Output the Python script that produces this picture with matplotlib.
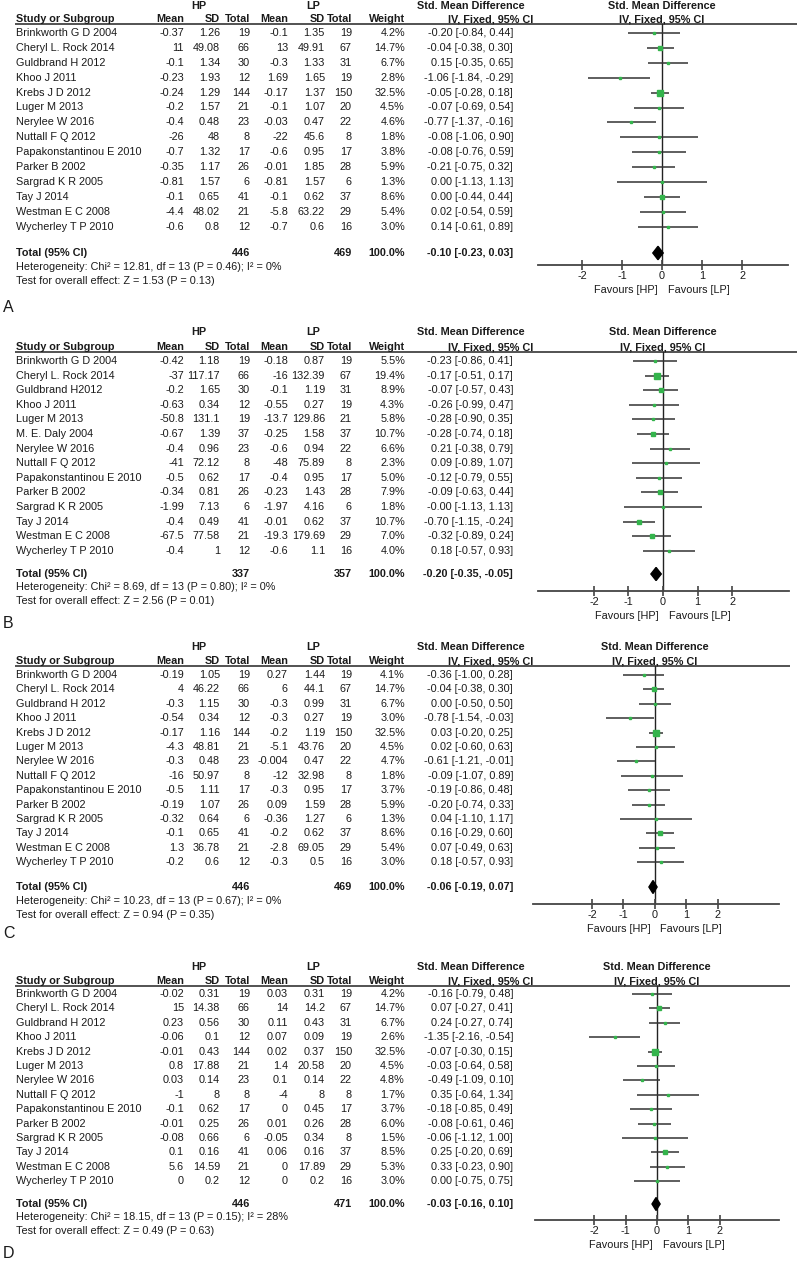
import numpy as np
import matplotlib.pyplot as plt
import matplotlib.transforms as mtransforms

plt.rcParams['font.family'] = ['Liberation Sans', 'DejaVu Sans']
plt.rcParams['axes.unicode_minus'] = False

# ---------------- data ----------------
studies_a = ["Brinkworth G D 2004", "Cheryl L. Rock 2014", "Guldbrand H 2012", "Khoo J 2011",
             "Krebs J D 2012", "Luger M 2013", "Nerylee W 2016", "Nuttall F Q 2012",
             "Papakonstantinou E 2010", "Parker B 2002", "Sargrad K R 2005", "Tay J 2014",
             "Westman E C 2008", "Wycherley T P 2010"]
studies_b = ["Brinkworth G D 2004", "Cheryl L. Rock 2014", "Guldbrand H2012", "Khoo J 2011",
             "Luger M 2013", "M. E. Daly 2004", "Nerylee W 2016", "Nuttall F Q 2012",
             "Papakonstantinou E 2010", "Parker B 2002", "Sargrad K R 2005", "Tay J 2014",
             "Westman E C 2008", "Wycherley T P 2010"]

# panel A
hp_mean_a = ["-0.37", "11", "-0.1", "-0.23", "-0.24", "-0.2", "-0.4", "-26", "-0.7", "-0.35", "-0.81", "-0.1", "-4.4", "-0.6"]
hp_sd_a = ["1.26", "49.08", "1.34", "1.93", "1.29", "1.57", "0.48", "48", "1.32", "1.17", "1.57", "0.65", "48.02", "0.8"]
hp_n_a = [19, 66, 30, 12, 144, 21, 23, 8, 17, 26, 6, 41, 21, 12]
lp_mean_a = ["-0.1", "13", "-0.3", "1.69", "-0.17", "-0.1", "-0.03", "-22", "-0.6", "-0.01", "-0.81", "-0.1", "-5.8", "-0.7"]
lp_sd_a = ["1.35", "49.91", "1.33", "1.65", "1.37", "1.07", "0.47", "45.6", "0.95", "1.85", "1.57", "0.62", "63.22", "0.6"]
lp_n_a = [19, 67, 31, 19, 150, 20, 22, 8, 17, 28, 6, 37, 29, 16]
weight_a = [4.2, 14.7, 6.7, 2.8, 32.5, 4.5, 4.6, 1.8, 3.8, 5.9, 1.3, 8.6, 5.4, 3.0]
smd_a = [-0.20, -0.04, 0.15, -1.06, -0.05, -0.07, -0.77, -0.08, -0.08, -0.21, 0.00, 0.00, 0.02, 0.14]
lo_a = [-0.84, -0.38, -0.35, -1.84, -0.28, -0.69, -1.37, -1.06, -0.76, -0.75, -1.13, -0.44, -0.54, -0.61]
hi_a = [0.44, 0.30, 0.65, -0.29, 0.18, 0.54, -0.16, 0.90, 0.59, 0.32, 1.13, 0.44, 0.59, 0.89]
total_a = (446, 469, -0.10, -0.23, 0.03)
het_a = "Heterogeneity: Chi² = 12.81, df = 13 (P = 0.46); I² = 0%"
test_a = "Test for overall effect: Z = 1.53 (P = 0.13)"

# panel B
hp_mean_b = ["-0.42", "-37", "-0.2", "-0.63", "-50.8", "-0.67", "-0.4", "-41", "-0.5", "-0.34", "-1.99", "-0.4", "-67.5", "-0.4"]
hp_sd_b = ["1.18", "117.17", "1.65", "0.34", "131.1", "1.39", "0.96", "72.12", "0.62", "0.81", "7.13", "0.49", "77.58", "1"]
hp_n_b = [19, 66, 30, 12, 19, 37, 23, 8, 17, 26, 6, 41, 21, 12]
lp_mean_b = ["-0.18", "-16", "-0.1", "-0.55", "-13.7", "-0.25", "-0.6", "-48", "-0.4", "-0.23", "-1.97", "-0.01", "-19.3", "-0.6"]
lp_sd_b = ["0.87", "132.39", "1.19", "0.27", "129.86", "1.58", "0.94", "75.89", "0.95", "1.43", "4.16", "0.62", "179.69", "1.1"]
lp_n_b = [19, 67, 31, 19, 21, 37, 22, 8, 17, 28, 6, 37, 29, 16]
weight_b = [5.5, 19.4, 8.9, 4.3, 5.8, 10.7, 6.6, 2.3, 5.0, 7.9, 1.8, 10.7, 7.0, 4.0]
smd_b = [-0.23, -0.17, -0.07, -0.26, -0.28, -0.28, 0.21, 0.09, -0.12, -0.09, -0.0, -0.70, -0.32, 0.18]
lo_b = [-0.86, -0.51, -0.57, -0.99, -0.90, -0.74, -0.38, -0.89, -0.79, -0.63, -1.13, -1.15, -0.89, -0.57]
hi_b = [0.41, 0.17, 0.43, 0.47, 0.35, 0.18, 0.79, 1.07, 0.55, 0.44, 1.13, -0.24, 0.24, 0.93]
total_b = (337, 357, -0.20, -0.35, -0.05)
het_b = "Heterogeneity: Chi² = 8.69, df = 13 (P = 0.80); I² = 0%"
test_b = "Test for overall effect: Z = 2.56 (P = 0.01)"

# panel C
hp_mean_c = ["-0.19", "4", "-0.3", "-0.54", "-0.17", "-4.3", "-0.3", "-16", "-0.5", "-0.19", "-0.32", "-0.1", "1.3", "-0.2"]
hp_sd_c = ["1.05", "46.22", "1.15", "0.34", "1.16", "48.81", "0.48", "50.97", "1.11", "1.07", "0.64", "0.65", "36.78", "0.6"]
hp_n_c = [19, 66, 30, 12, 144, 21, 23, 8, 17, 26, 6, 41, 21, 12]
lp_mean_c = ["0.27", "6", "-0.3", "-0.3", "-0.2", "-5.1", "-0.004", "-12", "-0.3", "0.09", "-0.36", "-0.2", "-2.8", "-0.3"]
lp_sd_c = ["1.44", "44.1", "0.99", "0.27", "1.19", "43.76", "0.47", "32.98", "0.95", "1.59", "1.27", "0.62", "69.05", "0.5"]
lp_n_c = [19, 67, 31, 19, 150, 20, 22, 8, 17, 28, 6, 37, 29, 16]
weight_c = [4.1, 14.7, 6.7, 3.0, 32.5, 4.5, 4.7, 1.8, 3.7, 5.9, 1.3, 8.6, 5.4, 3.0]
smd_c = [-0.36, -0.04, 0.00, -0.78, 0.03, 0.02, -0.61, -0.09, -0.19, -0.20, 0.04, 0.16, 0.07, 0.18]
lo_c = [-1.00, -0.38, -0.50, -1.54, -0.20, -0.60, -1.21, -1.07, -0.86, -0.74, -1.10, -0.29, -0.49, -0.57]
hi_c = [0.28, 0.30, 0.50, -0.03, 0.25, 0.63, -0.01, 0.89, 0.48, 0.33, 1.17, 0.60, 0.63, 0.93]
total_c = (446, 469, -0.06, -0.19, 0.07)
het_c = "Heterogeneity: Chi² = 10.23, df = 13 (P = 0.67); I² = 0%"
test_c = "Test for overall effect: Z = 0.94 (P = 0.35)"

# panel D
hp_mean_d = ["-0.02", "15", "0.23", "-0.06", "-0.01", "0.8", "0.03", "-1", "-0.1", "-0.01", "-0.08", "0.1", "5.6", "0"]
hp_sd_d = ["0.31", "14.38", "0.56", "0.1", "0.43", "17.88", "0.14", "8", "0.62", "0.25", "0.66", "0.16", "14.59", "0.2"]
hp_n_d = [19, 66, 30, 12, 144, 21, 23, 8, 17, 26, 6, 41, 21, 12]
lp_mean_d = ["0.03", "14", "0.11", "0.07", "0.02", "1.4", "0.1", "-4", "0", "0.01", "-0.05", "0.06", "0", "0"]
lp_sd_d = ["0.31", "14.2", "0.43", "0.09", "0.37", "20.58", "0.14", "8", "0.45", "0.26", "0.34", "0.16", "17.89", "0.2"]
lp_n_d = [19, 67, 31, 19, 150, 20, 22, 8, 17, 28, 8, 37, 29, 16]
weight_d = [4.2, 14.7, 6.7, 2.6, 32.5, 4.5, 4.8, 1.7, 3.7, 6.0, 1.5, 8.5, 5.3, 3.0]
smd_d = [-0.16, 0.07, 0.24, -1.35, -0.07, -0.03, -0.49, 0.35, -0.18, -0.08, -0.06, 0.25, 0.33, 0.00]
lo_d = [-0.79, -0.27, -0.27, -2.16, -0.30, -0.64, -1.09, -0.64, -0.85, -0.61, -1.12, -0.20, -0.23, -0.75]
hi_d = [0.48, 0.41, 0.74, -0.54, 0.15, 0.58, 0.10, 1.34, 0.49, 0.46, 1.00, 0.69, 0.90, 0.75]
total_d = (446, 471, -0.03, -0.16, 0.10)
het_d = "Heterogeneity: Chi² = 18.15, df = 13 (P = 0.15); I² = 28%"
test_d = "Test for overall effect: Z = 0.49 (P = 0.63)"

ticks = [-2, -1, 0, 1, 2]

# ---------------- layout (pixels) ----------------
W, H = 800, 1267
TXT = '#1a1a1a'
GREEN = '#34b44c'
FS = 7.8

# header y, line y, first row y, row spacing, total y, axis y, label y, plot x0, x1, xlim
layout = {
    'A': dict(top=6, line=24, row1=33, sp=14.9, total=253, axis=265, label=308,
              x0=538, x1=788, xlim=(-3.1, 3.15), lend=797),
    'B': dict(top=332, line=352, row1=361, sp=14.6, total=574, axis=591, label=623,
              x0=538, x1=789, xlim=(-3.62, 3.65), lend=797),
    'C': dict(top=647, line=666, row1=675, sp=14.4, total=887, axis=904, label=934,
              x0=533, x1=779, xlim=(-3.87, 3.94), lend=790),
    'D': dict(top=967, line=986, row1=994, sp=14.4, total=1204, axis=1220, label=1254,
              x0=535, x1=779, xlim=(-3.9, 3.9), lend=790),
}

panels = [
    ('A', studies_a, hp_mean_a, hp_sd_a, hp_n_a, lp_mean_a, lp_sd_a, lp_n_a, weight_a, smd_a, lo_a, hi_a, total_a, het_a, test_a),
    ('B', studies_b, hp_mean_b, hp_sd_b, hp_n_b, lp_mean_b, lp_sd_b, lp_n_b, weight_b, smd_b, lo_b, hi_b, total_b, het_b, test_b),
    ('C', studies_a, hp_mean_c, hp_sd_c, hp_n_c, lp_mean_c, lp_sd_c, lp_n_c, weight_c, smd_c, lo_c, hi_c, total_c, het_c, test_c),
    ('D', studies_a, hp_mean_d, hp_sd_d, hp_n_d, lp_mean_d, lp_sd_d, lp_n_d, weight_d, smd_d, lo_d, hi_d, total_d, het_d, test_d),
]

# column right edges for table
X_NAME = 16
X_HPM, X_HPSD, X_HPN = 184, 220, 250
X_LPM, X_LPSD, X_LPN = 288, 325, 352
X_W, X_CI = 405, 513

fig = plt.figure(figsize=(W / 100, H / 100), dpi=100)
bg = fig.add_axes([0, 0, 1, 1])
bg.set_xlim(0, W)
bg.set_ylim(H, 0)
bg.axis('off')


def fmt_ci(s, l, h):
    return f"{s:.2f} [{l:.2f}, {h:.2f}]"


for (lab, names, hpm, hpsd, hpn, lpm, lpsd, lpn, wt, smd, lo, hi, tot, het, test) in panels:
    g = layout[lab]
    y1 = g['top']
    y2 = g['line'] - 5
    # table headers
    bg.text(199, y1, "HP", ha='center', va='center', fontsize=FS, fontweight='bold', color=TXT)
    bg.text(313, y1, "LP", ha='center', va='center', fontsize=FS, fontweight='bold', color=TXT)
    bg.text(525, y1, "Std. Mean Difference", ha='right', va='center', fontsize=FS, fontweight='bold', color=TXT)
    bg.text(X_NAME, y2, "Study or Subgroup", ha='left', va='center', fontsize=FS, fontweight='bold', color=TXT)
    for x, t in [(X_HPM, "Mean"), (X_HPSD, "SD"), (X_HPN, "Total"), (X_LPM, "Mean"),
                 (X_LPSD, "SD"), (X_LPN, "Total"), (X_W, "Weight")]:
        bg.text(x, y2, t, ha='right', va='center', fontsize=FS, fontweight='bold', color=TXT)
    bg.text(533, y2, "IV, Fixed, 95% CI", ha='right', va='center', fontsize=FS, fontweight='bold', color=TXT)
    bg.hlines(g['line'], 15, g['lend'], color='#444444', lw=1.3)

    # rows
    for i in range(len(names)):
        y = g['row1'] + i * g['sp']
        bg.text(X_NAME, y, names[i], ha='left', va='center', fontsize=FS, color=TXT)
        for x, t in [(X_HPM, hpm[i]), (X_HPSD, hpsd[i]), (X_HPN, str(hpn[i])),
                     (X_LPM, lpm[i]), (X_LPSD, lpsd[i]), (X_LPN, str(lpn[i])),
                     (X_W, f"{wt[i]:.1f}%"), (X_CI, fmt_ci(smd[i], lo[i], hi[i]))]:
            bg.text(x, y, t, ha='right', va='center', fontsize=FS, color=TXT)

    # totals
    yt = g['total']
    bg.text(X_NAME, yt, "Total (95% CI)", ha='left', va='center', fontsize=FS, fontweight='bold', color=TXT)
    bg.text(X_HPN, yt, str(tot[0]), ha='right', va='center', fontsize=FS, fontweight='bold', color=TXT)
    bg.text(X_LPN, yt, str(tot[1]), ha='right', va='center', fontsize=FS, fontweight='bold', color=TXT)
    bg.text(X_W, yt, "100.0%", ha='right', va='center', fontsize=FS, fontweight='bold', color=TXT)
    bg.text(X_CI, yt, fmt_ci(tot[2], tot[3], tot[4]), ha='right', va='center', fontsize=FS, fontweight='bold', color=TXT)
    bg.text(X_NAME, yt + 13.5, het, ha='left', va='center', fontsize=FS, color=TXT)
    bg.text(X_NAME, yt + 27.5, test, ha='left', va='center', fontsize=FS, color=TXT)
    bg.text(3, g['label'], lab, ha='left', va='center', fontsize=11.5, color=TXT)

    # forest plot axes
    ax = fig.add_axes([g['x0'] / W, 1 - g['axis'] / H, (g['x1'] - g['x0']) / W, (g['axis'] - g['line']) / H])
    ax.patch.set_alpha(0)
    sp = g['sp']
    ax.set_xlim(*g['xlim'])
    ax.set_ylim((g['axis'] - g['row1']) / sp, (g['line'] - g['row1']) / sp)
    for s in ['top', 'left', 'right']:
        ax.spines[s].set_visible(False)
    ax.spines['bottom'].set_color('#444444')
    ax.spines['bottom'].set_linewidth(1.3)
    ax.set_yticks([])
    ax.set_xticks(ticks)
    ax.set_xticklabels([str(t) for t in ticks])
    ax.tick_params(axis='x', direction='inout', length=7, width=1.2, color='#444444',
                   labelsize=FS, labelcolor=TXT, pad=1)
    ax.axvline(0, color='#222222', lw=1.0, zorder=1)

    rows = np.arange(len(names))
    ax.hlines(rows, lo, hi, color='#333333', lw=1.1, zorder=2)
    for i in range(len(names)):
        ms = max(1.8, 0.82 * np.sqrt(wt[i]))
        ax.plot(smd[i], rows[i], marker='s', ms=ms, color=GREEN, mec=GREEN, zorder=3)
    ty = (yt - g['row1']) / sp
    ax.fill([tot[3], tot[2], tot[4], tot[2]], [ty, ty - 0.45, ty, ty + 0.45],
            color='black', zorder=4)

    # plot headers and favours labels
    blend = mtransforms.blended_transform_factory(ax.transData, bg.transData)
    ax.text(0, y1, "Std. Mean Difference", transform=blend, ha='center', va='center',
            fontsize=FS, fontweight='bold', color=TXT, clip_on=False)
    ax.text(0, y2, "IV, Fixed, 95% CI", transform=blend, ha='center', va='center',
            fontsize=FS, fontweight='bold', color=TXT, clip_on=False)
    ax.annotate("Favours [HP]", xy=(0, g['axis'] + 25), xycoords=blend, xytext=(-3, 0),
                textcoords='offset points', ha='right', va='center', fontsize=FS, color=TXT)
    ax.annotate("Favours [LP]", xy=(0, g['axis'] + 25), xycoords=blend, xytext=(4, 0),
                textcoords='offset points', ha='left', va='center', fontsize=FS, color=TXT)

fig.savefig('out.png', dpi=100, facecolor='white')
